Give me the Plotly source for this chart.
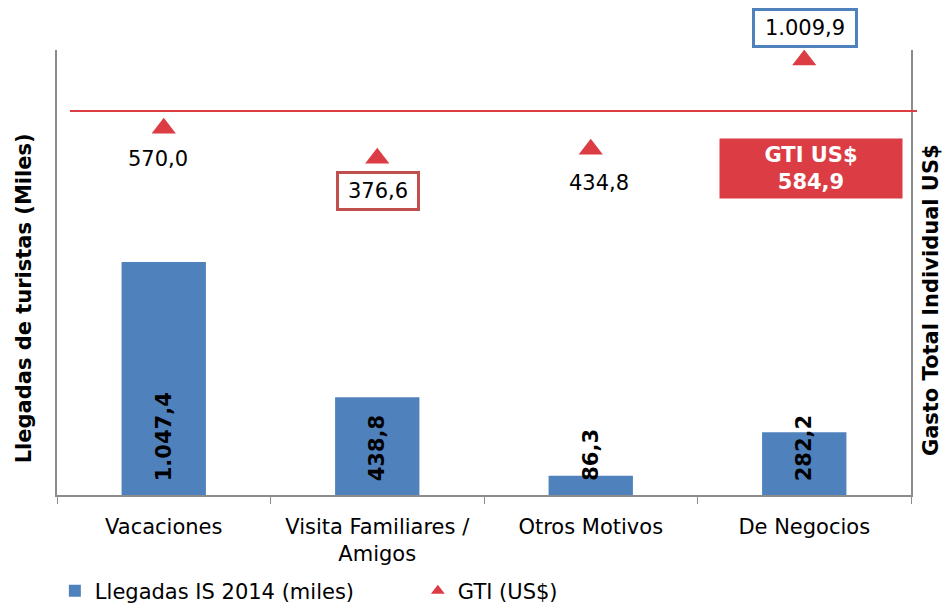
import plotly.graph_objects as go

# ---- data ----
categories = ["Vacaciones", "Visita Familiares /<br>Amigos", "Otros Motivos", "De Negocios"]
llegadas = [1047.4, 438.8, 86.3, 282.2]          # Llegadas IS 2014 (miles)
gti = [570.0, 376.6, 434.8, 1009.9]              # GTI (US$)
gti_total = 584.9                                 # GTI US$ total

series_names = ["Llegadas IS 2014 (miles)", "GTI (US$)"]
y_title_left = "Llegadas de turistas (Miles)"
y_title_right = "Gasto Total Individual US$"


def fmt(v):
    s = f"{v:,.1f}"
    return s.replace(",", "X").replace(".", ",").replace("X", ".")


# ---- styles ----
BLUE = "#4f81bd"
RED = "#dc3c44"
DARKRED = "#c0504d"
AXIS = "#8c8c8c"
FONT = "DejaVu Sans"

# label style per point: (yshift, xshift, border color, box width)
label_style = [(-31, -6, None, None), (-33, 1, DARKRED, 68), (-34, 8, None, None), (32, 1, BLUE, 90)]

fig = go.Figure()
fig.add_trace(go.Bar(
    x=categories, y=llegadas, name=series_names[0],
    marker=dict(color=BLUE, line=dict(width=0)), width=0.395,
    yaxis="y",
))
fig.add_trace(go.Scatter(
    x=categories, y=gti, name=series_names[1], mode="markers",
    marker=dict(symbol="triangle-up", size=21, color=RED),
    yaxis="y2",
))

annotations = []
# bar value labels (rotated, anchored near the base)
for c, v in zip(categories, llegadas):
    annotations.append(dict(
        x=c, y=0, xref="x", yref="y", text=f"<b>{fmt(v)}</b>", textangle=-90,
        showarrow=False, yanchor="bottom", xanchor="center", yshift=12,
        font=dict(family=FONT, size=21, color="black"),
    ))
# GTI labels
for c, v, (ys, xs, bc, bw) in zip(categories, gti, label_style):
    a = dict(
        x=c, y=v, xref="x", yref="y2", text=fmt(v), showarrow=False,
        xanchor="center", yanchor="middle",
        yshift=ys, xshift=xs, font=dict(family=FONT, size=21, color="black"),
    )
    if bc:
        a.update(bordercolor=bc, borderwidth=3, borderpad=5, bgcolor="white", width=bw)
    annotations.append(a)
# total GTI box
annotations.append(dict(
    x=0.883, y=0.7326, xref="paper", yref="paper", xanchor="center", yanchor="middle",
    text=f"<b>GTI US$<br>{fmt(gti_total)}</b>", showarrow=False,
    bgcolor=RED, width=182, height=59, borderpad=0,
    font=dict(family=FONT, size=21, color="white"),
))
# axis titles
annotations.append(dict(
    x=-0.0386, y=0.442, xref="paper", yref="paper", text=f"<b>{y_title_left}</b>",
    textangle=-90, showarrow=False, xanchor="center", yanchor="middle",
    font=dict(family=FONT, size=21, color="black"),
))
annotations.append(dict(
    x=1.0234, y=0.438, xref="paper", yref="paper", text=f"<b>{y_title_right}</b>",
    textangle=-90, showarrow=False, xanchor="center", yanchor="middle",
    font=dict(family=FONT, size=21, color="black"),
))

fig.update_layout(
    width=945, height=603,
    margin=dict(l=57, r=34, t=50, b=108, autoexpand=False),
    paper_bgcolor="white", plot_bgcolor="white",
    font=dict(family=FONT, size=21, color="black"),
    showlegend=True,
    legend=dict(
        orientation="h", x=-0.0025, y=-0.216, xanchor="left", yanchor="middle",
        font=dict(family=FONT, size=21, color="black"),
        itemsizing="constant", entrywidth=318, entrywidthmode="pixels",
    ),
    xaxis=dict(
        type="category", showline=True, linecolor=AXIS, linewidth=1.5,
        ticks="outside", tickson="boundaries", ticklen=7, tickcolor=AXIS,
        tickfont=dict(family=FONT, size=21, color="black"), ticklabelstandoff=12,
        showgrid=False, zeroline=False,
    ),
    yaxis=dict(
        range=[0, 2000], showline=True, linecolor=AXIS, linewidth=1.5,
        showticklabels=False, ticks="", showgrid=False, zeroline=False,
    ),
    yaxis2=dict(
        range=[-1797, 1075], overlaying="y", side="right", anchor="x",
        showline=True, linecolor=AXIS, linewidth=1.5,
        showticklabels=False, ticks="", showgrid=False, zeroline=False,
    ),
    shapes=[dict(
        type="line", xref="paper", yref="paper", x0=0.0152, x1=1.007,
        y0=0.863, y1=0.863, line=dict(color=RED, width=2),
    )],
    annotations=annotations,
)

fig.write_html(
    "out.html",
    config={"displayModeBar": False},
    post_script="document.body.style.margin='0';document.body.style.overflow='hidden';",
)
